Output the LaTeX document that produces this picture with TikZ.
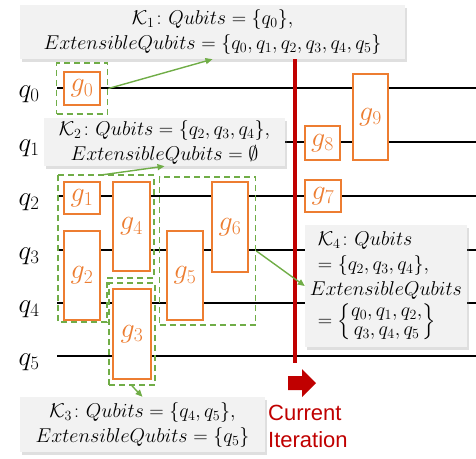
\RequirePackage{fix-cm}
\documentclass[tikz,border=0pt]{standalone}
\usepackage{fontspec}
\setsansfont{Liberation Sans}
\usepackage{xcolor}
\usepackage{amsmath, amssymb}
\usepackage{tikz}
\usetikzlibrary{shapes, arrows.meta, positioning, calc, fit, backgrounds, shadows}
\definecolor{gateorange}{HTML}{ED7D31}
\definecolor{regiongreen}{HTML}{70AD47}
\definecolor{iterred}{HTML}{C00000}
\definecolor{notegray}{HTML}{F2F2F2}

\begin{document}
\begin{tikzpicture}[
    x=1pt, y=-1pt,
    wire/.style={line width=1.6pt, black},
    gate/.style={rectangle, draw=gateorange, line width=2pt, fill=white, minimum width=36pt, inner sep=0pt, text=gateorange, font=\fontsize{28}{28}\selectfont},
    region/.style={draw=regiongreen, line width=1.8pt, dash pattern=on 6pt off 4pt},
    note/.style={rectangle, fill=notegray, drop shadow={shadow xshift=2pt, shadow yshift=-2.5pt, opacity=0.25}, font=\fontsize{20}{25}\selectfont, align=center, inner sep=0pt},
    link/.style={-{Triangle[length=7pt, width=6pt]}, line width=1.4pt, regiongreen},
    qlabel/.style={font=\fontsize{27}{27}\selectfont, anchor=base},
    iterline/.style={line width=4pt, iterred},
    curtext/.style={font=\sffamily\fontsize{22}{27}\selectfont, text=iterred, align=left, inner sep=0pt},
]
    \useasboundingbox (0,0) rectangle (476,458);

    \foreach \i/\y in {0/88,1/142,2/196,3/250,4/303,5/356} {
        \node[qlabel] (q\i) at (29,\y+9) {$q_\i$};
        \coordinate (w\i) at (57,\y);
        \draw[wire] (w\i) -- ++(419,0);
    }

    \node[gate, minimum height=33pt] (g0) at (82,88.5) {$g_0$};
    \node[gate, minimum height=32pt] (g1) at (82,198) {$g_1$};
    \node[gate, minimum height=89pt] (g2) at (82,275.5) {$g_2$};
    \node[gate, minimum width=38pt, minimum height=90pt] (g3) at (132,334) {$g_3$};
    \node[gate, minimum width=37pt, minimum height=89pt] (g4) at (131.5,226.5) {$g_4$};
    \node[gate, minimum height=89pt] (g5) at (185,275.5) {$g_5$};
    \node[gate, minimum height=90pt] (g6) at (230,227) {$g_6$};
    \node[gate, minimum height=32pt] (g7) at (323,196) {$g_7$};
    \node[gate, minimum width=35pt, minimum height=34pt] (g8) at (322.5,143) {$g_8$};
    \node[gate, minimum width=35pt, minimum height=86pt] (g9) at (370.5,117) {$g_9$};

    \node[region, fit=(g0), inner xsep=6.5pt, inner ysep=8pt] (k1r) {};
    \node[region, fit=(g3), inner xsep=3pt, inner ysep=5pt] (k3r) {};
    \node[region, fit=(g5)(g6), inner xsep=6.5pt, inner ysep=4pt] (k4r) {};
    \coordinate (k2nw) at ($(g1.north west)+(-5,-6)$);
    \coordinate (k2ne) at ($(g4.north east)+(3,-6)$);
    \coordinate (k2se) at ($(g4.south east)+(3,6)$);
    \coordinate (k2in) at ($(g4.south west)+(-5,6)$);
    \coordinate (k2bi) at ($(g2.south east)+(6,1)$);
    \coordinate (k2sw) at ($(g2.south west)+(-5,1)$);
    \draw[region] (k2nw) -- (k2ne) -- (k2se) -- (k2in) -- (k2bi) -- (k2sw) -- cycle;

    \node[note, minimum width=385pt, minimum height=54pt] (k1box) at (212.5,32)
        {$\mathcal{K}_1\colon Qubits=\{q_0\},$\\$ExtensibleQubits=\{q_0,q_1,q_2,q_3,q_4,q_5\}$};
    \node[note, minimum width=241pt, minimum height=48pt] (k2box) at (164.5,142)
        {$\mathcal{K}_2\colon Qubits=\{q_2,q_3,q_4\},$\\$ExtensibleQubits=\emptyset$};
    \node[note, minimum width=245pt, minimum height=55pt] (k3box) at (142.5,424.5)
        {$\mathcal{K}_3\colon Qubits=\{q_4,q_5\},$\\$ExtensibleQubits=\{q_5\}$};
    \node[note, minimum width=162pt, minimum height=122pt, align=left] (k4box) at (386,286)
        {\hspace*{8pt}$\mathcal{K}_4\colon Qubits$\\
         \hspace*{8pt}$=\{q_2,q_3,q_4\},$\\
         $ExtensibleQubits$\\[3pt]
         \hspace*{8pt}{\renewcommand{\arraystretch}{0.75}$=\left\{\begin{matrix}q_0,q_1,q_2,\\q_3,q_4,q_5\end{matrix}\right\}$}};

    \coordinate (curbot) at (295,363);
    \draw[iterline] (k1box.south -| curbot) -- (curbot);

    \draw[link] (k1r.east) -- (k1box.south);
    \draw[link] (k2nw -| g1.east) -- (k2box.south);
    \draw[link] (k4r.east) -- (k4box.west);
    \draw[link] (k3r.south) -- (k3box.north);

    \fill[iterred] (288,376) -- ++(14,0) -- ++(0,-7) -- ++(14,14) -- ++(-14,14) -- ++(0,-7) -- ++(-14,0) -- cycle;
    \node[curtext, anchor=north west] (curlbl) at (268,405) {Current\\Iteration};
\end{tikzpicture}
\end{document}
